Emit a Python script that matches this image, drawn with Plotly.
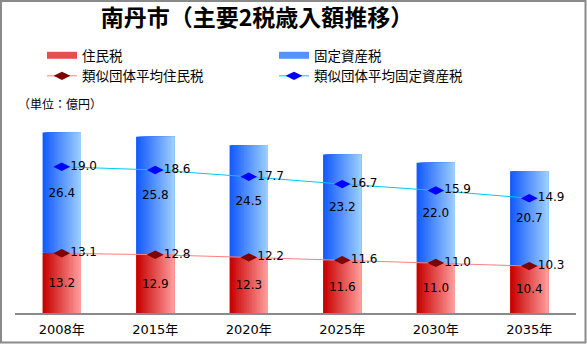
import plotly.graph_objects as go

# 年度と税目ごとの歳入額（億円）
years = ["2008年", "2015年", "2020年", "2025年", "2030年", "2035年"]
jumin = [13.2, 12.9, 12.3, 11.6, 11.0, 10.4]          # 住民税
kotei = [26.4, 25.8, 24.5, 23.2, 22.0, 20.7]          # 固定資産税
ruiji_jumin = [13.1, 12.8, 12.2, 11.6, 11.0, 10.3]    # 類似団体平均住民税
ruiji_kotei = [19.0, 18.6, 17.7, 16.7, 15.9, 14.9]    # 類似団体平均固定資産税

W, H = 587, 344
ML, MR, MT, MB = 15, 11, 108, 31
PW, PH = W - ML - MR, H - MT - MB

BAR_W = 0.41
N_SLICE = 24
FONT = "Noto Sans CJK JP"
NUM_FONT = "DejaVu Sans"


def lerp(c1, c2, t):
    return "rgb({},{},{})".format(*[round(a + (b - a) * t) for a, b in zip(c1, c2)])


RED_L, RED_R = (200, 0, 0), (255, 155, 155)
BLUE_L, BLUE_R = (20, 90, 255), (155, 205, 255)

fig = go.Figure()

# 横方向のグラデーション：左から右へ細い帯を重ねて塗る
for i in range(N_SLICE):
    t = i / (N_SLICE - 1)
    off = -BAR_W / 2 + i * BAR_W / N_SLICE
    wid = BAR_W - i * BAR_W / N_SLICE
    fig.add_bar(x=years, y=jumin, width=wid, offset=off,
                marker=dict(color=lerp(RED_L, RED_R, t), line=dict(width=0)),
                showlegend=False, hoverinfo="skip")
    fig.add_bar(x=years, y=kotei, base=jumin, width=wid, offset=off,
                marker=dict(color=lerp(BLUE_L, BLUE_R, t), line=dict(width=0)),
                showlegend=False, hoverinfo="skip")

# 棒の中央に値ラベル
lab_font = dict(family=NUM_FONT, size=12, color="black")
fig.add_bar(x=years, y=jumin, width=BAR_W, marker=dict(color="rgba(0,0,0,0)", line=dict(width=0)),
            text=[f"{v:.1f}" for v in jumin], textposition="inside", insidetextanchor="middle",
            textangle=0, textfont=lab_font, showlegend=False, hoverinfo="skip")
fig.add_bar(x=years, y=kotei, base=jumin, width=BAR_W, marker=dict(color="rgba(0,0,0,0)", line=dict(width=0)),
            text=[f"{v:.1f}" for v in kotei], textposition="inside", insidetextanchor="middle",
            textangle=0, textfont=lab_font, showlegend=False, hoverinfo="skip")

# 凡例用（棒グラフ）
fig.add_scatter(x=[years[0]], y=[None], mode="lines", name="住民税",
                line=dict(color="rgb(228,80,80)", width=7))
fig.add_scatter(x=[years[0]], y=[None], mode="lines", name="固定資産税",
                line=dict(color="rgb(85,145,255)", width=7))

# 類似団体平均（積み上げ折れ線）
ruiji_cum = [a + b for a, b in zip(ruiji_jumin, ruiji_kotei)]
fig.add_scatter(x=years, y=ruiji_jumin, mode="lines+markers+text", name="類似団体平均住民税",
                line=dict(color="#ff7f7f", width=1),
                marker=dict(symbol="diamond-wide", size=12, color="#800000"),
                text=[f"{v:.1f}" for v in ruiji_jumin], textposition="middle right",
                textfont=lab_font, cliponaxis=False)
fig.add_scatter(x=years, y=ruiji_cum, mode="lines+markers+text", name="類似団体平均固定資産税",
                line=dict(color="#00c8ff", width=1),
                marker=dict(symbol="diamond-wide", size=12, color="#0000ff"),
                text=[f"{v:.1f}" for v in ruiji_kotei], textposition="middle right",
                textfont=lab_font, cliponaxis=False)

# 外枠
fig.add_shape(type="rect", xref="paper", yref="paper",
              x0=(1 - ML) / PW, x1=(W - 1.5 - ML) / PW,
              y0=(MT + PH - (H - 1.5)) / PH, y1=(MT + PH - 1) / PH,
              line=dict(color="#8a8a8a", width=2), layer="below")

fig.add_annotation(text="（単位：億円）", xref="paper", yref="paper",
                   x=(16 - ML) / PW, y=(MT + PH - 103) / PH, xanchor="left", yanchor="middle",
                   showarrow=False, font=dict(family=FONT, size=12, color="black"))

fig.update_layout(
    width=W, height=H,
    margin=dict(l=ML, r=MR, t=MT, b=MB, autoexpand=False),
    paper_bgcolor="white", plot_bgcolor="white",
    barmode="overlay",
    title=dict(text="<b>南丹市（主要2税歳入額推移）</b>", x=(257 - ML) / PW, xref="paper",
               xanchor="center", y=1 - 18 / H, yanchor="middle",
               font=dict(family=FONT, size=23, color="black")),
    legend=dict(orientation="h", x=(42 - ML) / PW, y=(MT + PH - 40) / PH,
                xanchor="left", yanchor="top", entrywidth=187, entrywidthmode="pixels",
                font=dict(family=FONT, size=13.5, color="black"), bgcolor="rgba(0,0,0,0)",
                itemclick=False),
    xaxis=dict(type="category", showgrid=False, zeroline=False, showline=True,
               linecolor="#8a8a8a", linewidth=2, ticks="outside", ticklen=3, tickcolor="white",
               tickfont=dict(family=NUM_FONT + ", " + FONT, size=13, color="black"),
               fixedrange=True),
    yaxis=dict(visible=False, range=[0, 45], fixedrange=True),
    showlegend=True,
)

fig.write_html("out.html")
